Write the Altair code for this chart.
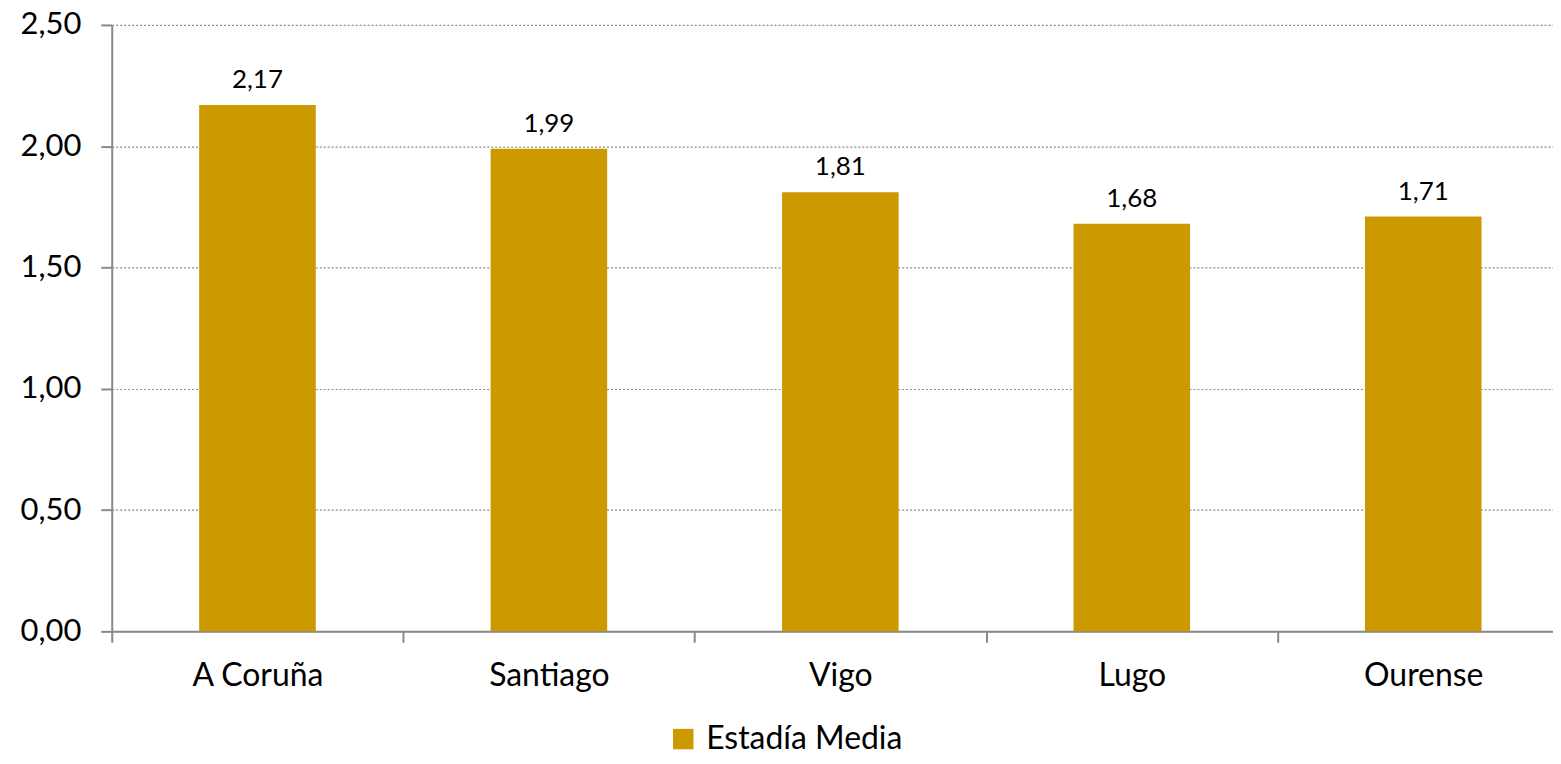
import altair as alt
import pandas as pd

categories = ["A Coruña", "Santiago", "Vigo", "Lugo", "Ourense"]
values = [2.17, 1.99, 1.81, 1.68, 1.71]
series_name = "Estadía Media"
y_ticks = [0, 0.5, 1.0, 1.5, 2.0, 2.5]

df = pd.DataFrame({"cat": categories, "val": values, "serie": [series_name] * len(categories)})
df["label"] = [f"{v:.2f}".replace(".", ",") for v in values]

FONT = "Lato"
GOLD = "#CC9900"
GRAY = "#898989"

x = alt.X(
    "cat:N",
    sort=categories,
    title=None,
    scale=alt.Scale(range=[0, 1461], paddingInner=0, paddingOuter=0),
    axis=alt.Axis(
        labelAngle=0, labelFontSize=32, labelFont=FONT, labelColor="#000000",
        labelPadding=18, tickBand="extent", tickSize=11, tickColor=GRAY, tickWidth=2,
        domainColor=GRAY, domainWidth=2, grid=False,
    ),
)
y = alt.Y(
    "val:Q",
    title=None,
    scale=alt.Scale(domain=[0, 2.5], nice=False),
    axis=alt.Axis(
        values=y_ticks, labelExpr="replace(format(datum.value, '.2f'), '.', ',')",
        labelFontSize=31, labelFont=FONT, labelColor="#000000", labelPadding=20,
        tickSize=11, tickColor=GRAY, tickWidth=2, domainColor=GRAY, domainWidth=2,
        grid=True, gridColor="#8a8a8a", gridDash=[2, 2], gridWidth=1.2,
    ),
)

bars = alt.Chart(df).mark_bar(color=GOLD, width=alt.RelativeBandSize(0.4)).encode(
    x=x,
    y=y,
    color=alt.Color(
        "serie:N",
        scale=alt.Scale(range=[GOLD]),
        legend=alt.Legend(
            title=None, orient="none", legendX=557, legendY=700,
            symbolType="square", symbolSize=420, symbolStrokeWidth=0,
            symbolFillColor=GOLD, labelFontSize=32, labelFont=FONT,
            labelColor="#000000", symbolOffset=0, labelOffset=7, labelLimit=500,
        ),
    ),
)

labels = alt.Chart(df).mark_text(
    baseline="alphabetic", dy=-17, fontSize=26, font=FONT, color="#000000"
).encode(x=alt.X("cat:N", sort=categories), y="val:Q", text="label:N")

chart = (
    alt.layer(bars, labels)
    .properties(
        width=1445, height=608,
        autosize=alt.AutoSizeParams(type="none"),
        padding={"left": 104, "top": 16, "right": 0, "bottom": 122},
    )
    .configure_view(stroke=None)
)

chart.save("out.html", embed_options={"renderer": "svg", "actions": False})
